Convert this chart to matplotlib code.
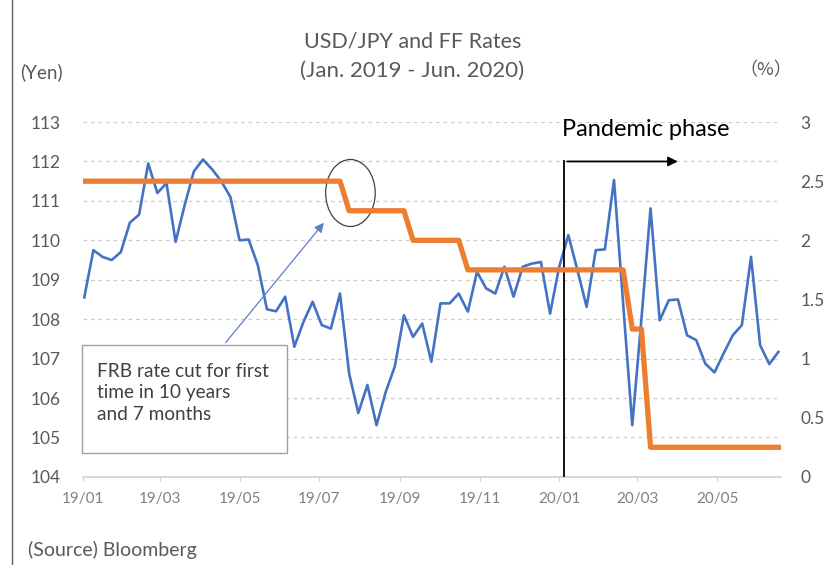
import numpy as np
import pandas as pd
import matplotlib
matplotlib.use("Agg")
import matplotlib.pyplot as plt
import matplotlib.dates as mdates
from matplotlib.patches import Ellipse, Rectangle
from matplotlib.lines import Line2D

plt.rcParams['font.family'] = ['Lato', 'Noto Sans CJK JP', 'DejaVu Sans']

# weekly USD/JPY (yen) and FF rate upper bound (%)
start_date = '2019-01-02'
usdjpy = [108.55, 109.75, 109.58, 109.50, 109.70, 110.45, 110.65, 111.95, 111.20, 111.45,
          109.96, 110.90, 111.75, 112.05, 111.80, 111.50, 111.10, 110.00, 110.02, 109.37,
          108.25, 108.20, 108.57, 107.30, 107.93, 108.44, 107.85, 107.76, 108.65, 106.62,
          105.62, 106.33, 105.31, 106.15, 106.80, 108.10, 107.55, 107.89, 106.92, 108.40,
          108.40, 108.65, 108.19, 109.20, 108.78, 108.65, 109.33, 108.57, 109.33, 109.41,
          109.45, 108.14, 109.33, 110.13, 109.24, 108.31, 109.75, 109.77, 111.53, 108.40,
          105.31, 108.00, 110.81, 107.97, 108.48, 108.50, 107.59, 107.47, 106.87, 106.65,
          107.13, 107.59, 107.85, 109.58, 107.34, 106.86, 107.17]
ff_rate = [2.5] * 29 + [2.25] * 7 + [2.0] * 6 + [1.75] * 18 + [1.25] * 2 + [0.25] * 15

dates = pd.date_range(start_date, periods=len(usdjpy), freq='7D')
x = mdates.date2num(dates)

def d(s):
    return mdates.datestr2num(s)

grey = '#595959'

fig = plt.figure(figsize=(8.38, 5.65), dpi=100)
ax = fig.add_axes([0.099, 0.156, 0.833, 0.628])
ax2 = ax.twinx()

ax.plot(x, usdjpy, color='#4472C4', lw=1.9, zorder=3)
ax2.plot(x, ff_rate, color='#ED7D31', lw=3.8, zorder=3)

ax.set_ylim(104, 113)
ax2.set_ylim(0, 3)
ax.set_xlim(d('2019-01-01'), d('2020-06-19'))
ax.set_yticks(np.arange(104, 114, 1))
ax2.set_yticks(np.arange(0, 3.5, 0.5))
ax2.set_yticklabels(['0', '0.5', '1', '1.5', '2', '2.5', '3'])

ax.xaxis.set_major_locator(mdates.MonthLocator(bymonth=[1, 3, 5, 7, 9, 11]))
ax.xaxis.set_major_formatter(mdates.DateFormatter('%y/%m'))

for a in (ax, ax2):
    for sp in a.spines.values():
        sp.set_visible(False)
ax.spines['bottom'].set_visible(True)
ax.spines['bottom'].set_color('#d0d0d0')
ax.spines['bottom'].set_linewidth(1.2)

ax.tick_params(axis='y', length=0, labelsize=12.5, labelcolor=grey, pad=16)
ax2.tick_params(axis='y', length=0, labelsize=12.5, labelcolor=grey, pad=14)
ax.tick_params(axis='x', length=3, color='#d0d0d0', labelsize=11, labelcolor='#808080', pad=8)

for yv in range(105, 114):
    ax.axhline(yv, color='#cccccc', lw=0.9, ls=(0, (3, 3)), zorder=1)

# pandemic phase marker
ax.plot([d('2020-01-05'), d('2020-01-05')], [104, 112], color='black', lw=1.3, zorder=4)
ax.annotate('', xy=(d('2020-04-03'), 112), xytext=(d('2020-01-05'), 112),
            arrowprops=dict(arrowstyle='-|>', color='black', lw=1.3, mutation_scale=14),
            zorder=4)
ax.text(d('2020-01-03'), 112.8, 'Pandemic phase', fontsize=17, color='black',
        ha='left', va='center')

# circle around the first cut
ax.add_patch(Ellipse((d('2019-07-25'), 111.2), 38, 1.7, fill=False,
                     edgecolor='#404040', lw=0.9, zorder=5))
ax.annotate('', xy=(d('2019-07-06'), 110.5), xytext=(d('2019-04-19'), 107.35),
            arrowprops=dict(arrowstyle='-|>', color='#5b7fc4', lw=0.9, mutation_scale=14),
            zorder=5)
ax.add_patch(Rectangle((d('2018-12-31'), 104.6), 157.5, 2.75, facecolor='white',
                       edgecolor='#a0a0a0', lw=1.0, zorder=6, clip_on=False))
ax.text(d('2019-01-12'), 106.9, 'FRB rate cut for first\ntime in 10 years\nand 7 months',
        fontsize=13.7, color='#404040', ha='left', va='top', linespacing=1.33, zorder=7)

# titles and axis units
fig.text(0.492, 0.926, 'USD/JPY and FF Rates', ha='center', va='center', fontsize=15.5, color=grey)
fig.text(0.492, 0.875, '(Jan. 2019 - Jun. 2020)', ha='center', va='center', fontsize=16, color=grey)
fig.text(0.05, 0.873, '(Yen)', ha='center', va='center', fontsize=13.5, color=grey)
fig.text(0.914, 0.876, '（%）', ha='center', va='center', fontsize=13, color=grey,
         family='Noto Sans CJK JP')
fig.text(0.033, 0.027, '(Source) Bloomberg', ha='left', va='center', fontsize=14, color=grey)

fig.add_artist(Line2D([0.0145, 0.0145], [0, 1], color='#606060', lw=1.0))

fig.savefig('out.png', dpi=100)
